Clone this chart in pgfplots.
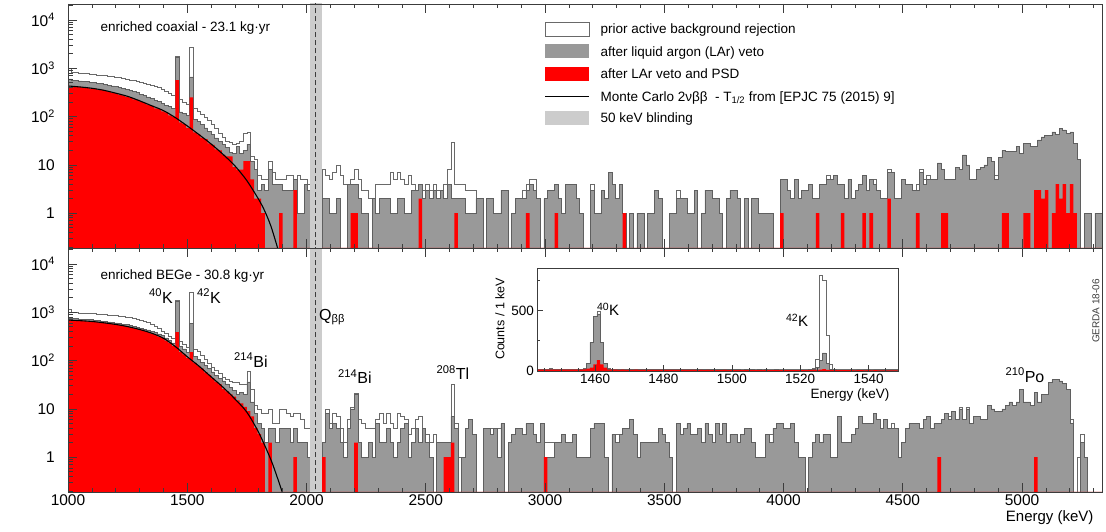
\documentclass[border=0pt]{standalone}
\usepackage{pgfplots}
\pgfplotsset{compat=1.18}
\usepackage{pgfplotstable}
\usepackage{fontspec}
\setmainfont{Liberation Sans}
\newcommand{\fs}[1]{\fontsize{#1}{#1}\selectfont}
\definecolor{histgray}{RGB}{153,153,153}
\definecolor{histedge}{RGB}{95,95,95}
\definecolor{prioredge}{RGB}{105,105,105}
\definecolor{blindgray}{RGB}{204,204,204}
\definecolor{axisgray}{RGB}{60,60,60}

\pgfplotstableread{
E P G R
1000 1000 600 415
1015 820 565 420
1030 810 560 405
1045 790 545 410
1060 790 540 390
1075 770 530 395
1090 760 515 375
1105 750 510 378
1120 730 495 360
1135 725 480 355
1150 700 465 335
1165 690 450 330
1180 675 430 310
1195 650 420 305
1210 635 400 280
1225 610 385 275
1240 595 360 255
1255 570 350 248
1270 555 330 228
1285 530 315 222
1300 510 290 200
1315 495 275 192
1330 470 255 172
1345 450 240 166
1360 420 215 148
1375 395 205 142
1390 360 185 128
1405 335 172 122
1420 300 160 106
1435 270 145 98
1450 1750 1700 570
1465 225 125 76
1480 200 115 70
1495 180 105 58
1510 2770 665 250
1525 150 88 47
1540 130 78 43
1555 112 68 36
1570 95 58 34
1585 82 50 28
1600 68 43 26
1615 56 36 21
1630 46 31 20
1645 37 27 16
1660 31 23 15
1675 30 18 15
1690 27 17 9
1705 28 24 8
1720 31 17 8
1735 44 20 12
1750 48 27 12
1765 15 12 5
1780 13 8 2
1795 6 3 2
1810 5 4 1
1825 5 3 .1
1840 12 8 .1
1855 7 4 .1
1870 5 4 .1
1885 5 4 1
1900 5 3 .1
1915 6 3 .1
1930 6 3 .1
1945 5 5 3
1960 6 1 .1
1975 5 1 .1
1990 5 4 .1
2005 4 3 .1
2020 .1 .1 .1
2035 .1 .1 .1
2050 .1 .1 .1
2065 8 2 .1
2080 6 2 .1
2095 5 1 .1
2110 7 1 .1
2125 10 2 .1
2140 6 .1 .1
2155 4 .1 .1
2170 4 4 .1
2185 5 4 1
2200 8 4 1
2215 5 2 .1
2230 3 1 .1
2245 3 1 .1
2260 2 .1 .1
2275 2 2 .1
2290 4 1 .1
2305 4 2 .1
2320 4 2 .1
2335 4 2 .1
2350 7 1 .1
2365 5 1 .1
2380 7 2 .1
2395 5 2 .1
2410 4 1 .1
2425 6 1 .1
2440 4 3 .1
2455 3 3 .1
2470 4 4 2
2485 3 2 .1
2500 4 3 .1
2515 3 2 .1
2530 4 3 .1
2545 3 2 .1
2560 3 3 .1
2575 4 2 .1
2590 8 4 .1
2605 30 2 .1
2620 4 2 1
2635 4 2 .1
2650 4 2 .1
2665 3 1 .1
2680 3 1 .1
2695 3 1 .1
2710 2 2 .1
2725 2 2 .1
2740 .1 .1 .1
2755 2 2 .1
2770 2 2 .1
2785 1 1 .1
2800 1 1 .1
2815 3 3 .1
2830 3 3 .1
2845 .1 .1 .1
2860 1 1 .1
2875 2 2 .1
2890 2 2 .1
2905 3 2 .1
2920 4 3 1
2935 5 4 .1
2950 5 3 .1
2965 2 2 .1
2980 .1 .1 .1
2995 2 2 .1
3010 3 3 .1
3025 3 3 .1
3040 4 4 1
3055 2 2 .1
3070 1 1 .1
3085 4 4 .1
3100 4 4 .1
3115 4 4 .1
3130 2 2 .1
3145 1 1 .1
3160 .1 .1 .1
3175 .1 .1 .1
3190 4 3 .1
3205 1 1 .1
3220 1 1 .1
3235 3 3 .1
3250 2 2 .1
3265 7 7 .1
3280 4 4 .1
3295 2 2 .1
3310 4 4 .1
3325 1 1 1
3340 .1 .1 .1
3355 1 1 .1
3370 .1 .1 .1
3385 1 1 .1
3400 1 1 .1
3415 .1 .1 .1
3430 1 1 .1
3445 1 1 .1
3460 3 3 .1
3475 2 2 .1
3490 .1 .1 .1
3505 .1 .1 .1
3520 1 1 .1
3535 1 1 .1
3550 3 2 .1
3565 2 2 .1
3580 2 2 .1
3595 1 1 .1
3610 1 1 .1
3625 3 3 .1
3640 .1 .1 .1
3655 1 1 .1
3670 3 3 .1
3685 3 3 .1
3700 2 2 .1
3715 2 2 .1
3730 1 1 .1
3745 .1 .1 .1
3760 2 2 .1
3775 3 3 .1
3790 3 3 .1
3805 2 2 .1
3820 .1 .1 .1
3835 2 2 .1
3850 .1 .1 .1
3865 2 2 .1
3880 2 2 .1
3895 1 1 .1
3910 1 1 .1
3925 1 1 .1
3940 1 1 .1
3955 .1 .1 .1
3970 .1 .1 .1
3985 5 5 1
4000 5 5 .1
4015 3 3 .1
4030 2 2 .1
4045 5 5 .1
4060 2 2 .1
4075 3 3 .1
4090 3 3 .1
4105 4 4 .1
4120 2 2 .1
4135 2 2 1
4150 4 4 .1
4165 4 4 .1
4180 6 5 .1
4195 5 5 .1
4210 6 6 .1
4225 4 4 .1
4240 4 4 1
4255 2 2 .1
4270 5 5 .1
4285 2 2 .1
4300 3 3 .1
4315 4 4 .1
4330 6 6 1
4345 3 3 .1
4360 5 5 1
4375 5 4 .1
4390 3 3 .1
4405 2 2 .1
4420 2 2 .1
4435 8 7 2
4450 7 7 .1
4465 2 2 .1
4480 2 2 .1
4495 5 5 .1
4510 4 4 .1
4525 4 4 .1
4540 3 3 .1
4555 4 3 1
4570 8 7 .1
4585 5 4 .1
4600 6 5 .1
4615 5 5 .1
4630 5 5 .1
4645 11 11 .1
4660 8 8 1
4675 5 5 1
4690 5 5 .1
4705 5 5 .1
4720 9 9 .1
4735 8 8 .1
4750 16 16 .1
4765 10 10 .1
4780 5 5 .1
4795 5 5 .1
4810 8 8 .1
4825 9 9 .1
4840 10 10 .1
4855 14 14 .1
4870 12 12 .1
4885 6 5 .1
4900 14 14 .1
4915 20 20 1
4930 19 19 1
4945 19 19 .1
4960 19 19 .1
4975 24 24 .1
4990 17 17 .1
5005 28 28 1
5020 28 28 1
5035 24 24 .1
5050 24 24 3
5065 33 33 3
5080 38 38 2
5095 40 40 3
5110 40 40 .1
5125 48 48 1
5140 42 42 4
5155 57 57 2
5170 53 53 4
5185 45 45 1
5200 48 48 4
5215 28 28 1
5230 13 13 .1
5245 .1 .1 .1
5260 1 1 .1
5275 1 1 .1
5290 .1 .1 .1
5305 1 1 .1
5320 1 1 .1
5335 1 1 .1
}\coax

\pgfplotstableread{
E P G R
1000 1150 760 690
1015 1000 735 675
1030 990 735 680
1045 970 715 660
1060 960 720 665
1075 950 700 645
1090 940 700 650
1105 930 685 630
1120 920 675 625
1135 905 655 605
1150 890 650 600
1165 875 630 580
1180 860 620 575
1195 845 600 550
1210 830 590 545
1225 810 565 520
1240 790 555 510
1255 770 530 485
1270 750 515 472
1285 720 490 445
1300 690 470 432
1315 650 450 405
1330 610 430 390
1345 560 405 362
1360 510 385 342
1375 460 355 312
1390 410 335 295
1405 360 295 258
1420 320 265 232
1435 285 232 200
1450 1750 1720 390
1465 245 200 152
1480 215 175 135
1495 190 150 112
1510 2600 590 150
1525 175 120 90
1540 155 105 78
1555 130 90 68
1570 105 78 57
1585 88 68 50
1600 73 58 43
1615 62 50 36
1630 54 43 32
1645 46 38 26
1660 40 33 23
1675 38 28 20
1690 36 24 18
1705 35 20 15
1720 32 22 13
1735 33 20 11
1750 61 36 9
1765 25 14 7
1780 12 8 4
1795 10 5 3
1810 8 4 2
1825 8 2 .1
1840 10 4 2
1855 5 4 .1
1870 5 2 .1
1885 10 4 .1
1900 10 4 .1
1915 8 4 .1
1930 7 2 .1
1945 8 4 1
1960 8 2 .1
1975 6 2 .1
1990 4 2 .1
2005 4 1 .1
2020 .1 .1 .1
2035 .1 .1 .1
2050 .1 .1 .1
2065 2 2 1
2080 10 8 .1
2095 5 4 .1
2110 8 5 .1
2125 7 4 .1
2140 4 2 .1
2155 2 1 .1
2170 6 4 .1
2185 11 10 .1
2200 21 20 2
2215 6 2 .1
2230 5 1 .1
2245 4 1 .1
2260 4 2 .1
2275 4 1 .1
2290 6 5 .1
2305 8 2 .1
2320 5 2 .1
2335 8 4 .1
2350 5 2 .1
2365 4 1 .1
2380 8 2 .1
2395 7 4 .1
2410 6 5 .1
2425 3 1 .1
2440 4 2 .1
2455 6 4 .1
2470 7 2 .1
2485 4 4 .1
2500 3 2 .1
2515 2 1 .1
2530 3 .1 .1
2545 2 2 .1
2560 2 2 .1
2575 2 2 1
2590 2 2 1
2605 32 7 2
2620 5 4 .1
2635 1 .1 .1
2650 1 1 .1
2665 4 4 .1
2680 6 6 .1
2695 3 3 .1
2710 .1 .1 .1
2725 .1 .1 .1
2740 4 4 .1
2755 4 4 .1
2770 4 3 .1
2785 4 4 .1
2800 4 1 .1
2815 5 5 .1
2830 .1 .1 .1
2845 2 2 .1
2860 3 3 .1
2875 4 4 .1
2890 4 4 .1
2905 3 3 .1
2920 5 5 .1
2935 5 5 .1
2950 3 3 .1
2965 2 2 .1
2980 5 5 .1
2995 2 1 1
3010 2 1 .1
3025 2 1 .1
3040 2 2 .1
3055 2 2 .1
3070 3 3 .1
3085 2 2 .1
3100 2 2 .1
3115 3 3 .1
3130 1 1 .1
3145 1 1 .1
3160 1 1 .1
3175 1 1 .1
3190 4 4 .1
3205 5 5 .1
3220 5 5 .1
3235 5 5 .1
3250 1 1 .1
3265 .1 .1 .1
3280 3 3 .1
3295 3 2 .1
3310 3 3 .1
3325 4 4 .1
3340 4 4 .1
3355 6 6 .1
3370 3 3 .1
3385 1 1 .1
3400 2 2 .1
3415 2 2 .1
3430 2 2 .1
3445 2 2 .1
3460 2 2 .1
3475 4 4 .1
3490 3 3 .1
3505 2 2 .1
3520 1 1 .1
3535 .1 .1 .1
3550 5 5 .1
3565 3 3 .1
3580 4 4 .1
3595 5 5 .1
3610 3 3 .1
3625 3 3 .1
3640 4 4 .1
3655 2 2 .1
3670 5 5 .1
3685 3 3 .1
3700 2 2 .1
3715 5 5 .1
3730 3 3 .1
3745 5 5 .1
3760 2 2 .1
3775 3 3 .1
3790 3 3 .1
3805 2 2 .1
3820 3 3 .1
3835 4 4 .1
3850 4 4 .1
3865 2 2 .1
3880 1 1 .1
3895 1 1 .1
3910 1 1 .1
3925 3 3 .1
3940 3 2 .1
3955 4 4 .1
3970 5 5 .1
3985 5 5 .1
4000 4 4 .1
4015 4 4 .1
4030 5 5 .1
4045 2 2 .1
4060 1 1 .1
4075 1 1 .1
4090 .1 .1 .1
4105 1 1 .1
4120 2 2 .1
4135 3 3 .1
4150 2 2 .1
4165 3 3 .1
4180 3 3 .1
4195 1 1 .1
4210 1 1 .1
4225 7 7 .1
4240 2 2 .1
4255 2 2 .1
4270 2 2 .1
4285 3 3 .1
4300 4 4 .1
4315 7 7 .1
4330 5 5 .1
4345 5 5 .1
4360 5 5 .1
4375 8 8 .1
4390 6 6 .1
4405 4 4 .1
4420 6 6 .1
4435 4 4 .1
4450 5 4 .1
4465 4 4 .1
4480 1 1 .1
4495 2 2 .1
4510 4 4 .1
4525 5 5 .1
4540 5 5 .1
4555 5 5 .1
4570 4 4 .1
4585 6 6 .1
4600 7 7 .1
4615 4 4 .1
4630 5 5 .1
4645 5 5 1
4660 6 6 .1
4675 8 8 .1
4690 7 6 .1
4705 9 9 .1
4720 6 6 .1
4735 11 10 .1
4750 6 6 .1
4765 11 10 .1
4780 5 5 .1
4795 7 7 .1
4810 7 7 .1
4825 6 6 .1
4840 6 6 .1
4855 12 12 .1
4870 10 10 .1
4885 9 9 .1
4900 9 9 .1
4915 10 10 .1
4930 12 12 .1
4945 14 14 .1
4960 12 12 .1
4975 14 14 .1
4990 25 25 .1
5005 14 14 .1
5020 14 14 .1
5035 12 12 .1
5050 22 22 1
5065 14 14 .1
5080 20 20 .1
5095 20 20 .1
5110 35 35 .1
5125 40 40 .1
5140 40 40 .1
5155 38 38 .1
5170 34 34 .1
5185 25 25 .1
5200 6 5 .1
5215 .1 .1 .1
5230 1 .1 .1
5245 3 2 .1
5260 1 1 .1
5275 .1 .1 .1
5290 .1 .1 .1
5305 .1 .1 .1
5320 .1 .1 .1
5335 .1 .1 .1
}\bege

\pgfplotstableread{
E P G R
1442.5 18 14 12
1443.5 17 14 12
1444.5 18 13 11
1445.5 17 14 12
1446.5 19 14 11
1447.5 16 13 12
1448.5 18 14 11
1449.5 17 13 11
1450.5 16 13 12
1451.5 17 14 11
1452.5 16 13 11
1453.5 18 14 12
1454.5 17 13 11
1455.5 18 15 12
1456.5 20 16 14
1457.5 62 60 20
1458.5 240 236 28
1459.5 455 450 55
1460.5 490 472 89
1461.5 240 236 55
1462.5 65 61 28
1463.5 20 16 12
1464.5 17 13 11
1465.5 16 13 11
1466.5 17 13 10
1467.5 16 12 11
1468.5 17 13 10
1469.5 15 12 10
1470.5 16 12 10
1471.5 16 13 11
1472.5 15 12 10
1473.5 16 12 10
1474.5 15 12 9
1475.5 16 12 10
1476.5 15 11 10
1477.5 16 12 9
1478.5 15 12 10
1479.5 15 11 9
1480.5 16 12 10
1481.5 15 11 9
1482.5 18 13 10
1483.5 15 11 9
1484.5 14 11 9
1485.5 15 11 9
1486.5 14 11 9
1487.5 15 11 9
1488.5 14 10 9
1489.5 15 11 8
1490.5 14 10 9
1491.5 14 11 8
1492.5 15 10 9
1493.5 14 10 8
1494.5 14 11 8
1495.5 13 10 8
1496.5 14 10 8
1497.5 14 10 9
1498.5 13 10 8
1499.5 14 10 8
1500.5 13 10 8
1501.5 14 10 8
1502.5 13 9 8
1503.5 14 10 8
1504.5 13 9 7
1505.5 13 10 8
1506.5 14 9 7
1507.5 13 10 8
1508.5 13 9 7
1509.5 14 10 8
1510.5 13 9 7
1511.5 13 9 7
1512.5 14 10 8
1513.5 13 9 7
1514.5 13 9 7
1515.5 12 9 7
1516.5 13 9 7
1517.5 13 9 7
1518.5 12 9 7
1519.5 13 9 7
1520.5 13 9 7
1521.5 14 9 7
1522.5 15 10 8
1523.5 22 12 9
1524.5 100 30 10
1525.5 790 90 12
1526.5 750 150 15
1527.5 292 60 10
1528.5 55 15 8
1529.5 16 10 8
1530.5 13 9 7
1531.5 13 9 7
1532.5 12 9 7
1533.5 13 9 7
1534.5 12 8 7
1535.5 12 9 6
1536.5 13 8 7
1537.5 12 9 7
1538.5 12 8 6
1539.5 12 8 7
1540.5 13 9 6
1541.5 12 8 7
1542.5 12 8 6
1543.5 12 8 6
1544.5 11 8 6
1545.5 12 8 6
1546.5 12 8 6
1547.5 11 8 6
1548.5 11 8 6
}\zoomk

\begin{document}
\begin{tikzpicture}[x=1pt,y=1pt]
\useasboundingbox (0,0) rectangle (1106,532);

% ---------------- upper panel: enriched coaxial
\begin{axis}[at={(68pt,284pt)}, anchor=south west,
    scale only axis, width=1034pt, height=244pt,
    ymode=log,
    xmin=1000, xmax=5335, ymin=0.19, ymax=21400,
    log origin y=infty, axis on top,
    axis line style={axisgray, line width=0.9pt},
    every tick/.style={axisgray, line width=0.7pt},
    major tick length=9pt, minor tick length=4.5pt,
    xtick={1000,1500,2000,2500,3000,3500,4000,4500,5000},
    minor xtick={1000,1100,...,5300},
    ytick={1,10,100,1000,10000},
    yticklabels={1,10,{10\textsuperscript{2}},{10\textsuperscript{3}},{10\textsuperscript{4}}},
    minor ytick={0.2,0.3,0.4,0.5,0.6,0.7,0.8,0.9,2,3,4,5,6,7,8,9,20,30,40,50,60,70,80,90,200,300,400,500,600,700,800,900,2000,3000,4000,5000,6000,7000,8000,9000,20000},
    ytick pos=left,
    tick label style={font=\fs{15.5}},
    yticklabel style={inner sep=0pt, xshift=-13pt},
    xticklabels={}]
\addplot[const plot mark left, mark=none, draw=prioredge, line width=0.6pt, fill=white] table[x=E,y=P]{\coax} \closedcycle;
\addplot[const plot mark left, mark=none, draw=histedge, line width=0.6pt, fill=histgray] table[x=E,y=G]{\coax} \closedcycle;
\addplot[const plot mark left, mark=none, draw=none, fill=red] table[x=E,y=R]{\coax} \closedcycle;
\addplot[black, line width=1.1pt, smooth, mark=none] coordinates {
(1000,430)(1050,410)(1100,385)(1150,350)(1200,305)(1250,262)(1300,212)(1350,168)
(1400,133)(1450,95)(1500,64)(1550,42)(1600,27)(1650,16.5)(1700,9.5)(1750,4.7)
(1800,1.9)(1825,1.1)(1850,0.55)(1875,0.22)(1890,0.12)};
\fill[blindgray] (axis cs:2014,0.1) rectangle (axis cs:2064,100000);
\draw[axisgray, line width=0.8pt, dash pattern=on 5pt off 3pt] (axis cs:2039,0.1) -- (axis cs:2039,100000);
\node[rotate=90, anchor=east, font=\fs{15}] at (axis description cs:-0.0508,0.98) {Counts / 15 keV};
\end{axis}

% ---------------- lower panel: enriched BEGe
\begin{axis}[at={(68pt,40pt)}, anchor=south west,
    scale only axis, width=1034pt, height=244pt,
    ymode=log,
    xmin=1000, xmax=5335, ymin=0.19, ymax=21400,
    log origin y=infty, axis on top,
    axis line style={axisgray, line width=0.9pt},
    every tick/.style={axisgray, line width=0.7pt},
    major tick length=9pt, minor tick length=4.5pt,
    xtick={1000,1500,2000,2500,3000,3500,4000,4500,5000},
    minor xtick={1000,1100,...,5300},
    ytick={1,10,100,1000,10000},
    yticklabels={1,10,{10\textsuperscript{2}},{10\textsuperscript{3}},{10\textsuperscript{4}}},
    minor ytick={0.2,0.3,0.4,0.5,0.6,0.7,0.8,0.9,2,3,4,5,6,7,8,9,20,30,40,50,60,70,80,90,200,300,400,500,600,700,800,900,2000,3000,4000,5000,6000,7000,8000,9000,20000},
    ytick pos=left,
    tick label style={font=\fs{15.5}},
    yticklabel style={inner sep=0pt, xshift=-13pt},
    xticklabel style={inner sep=2.5pt},
    xticklabels={1000,1500,2000,2500,3000,3500,4000,4500,5000}]
\addplot[const plot mark left, mark=none, draw=prioredge, line width=0.6pt, fill=white] table[x=E,y=P]{\bege} \closedcycle;
\addplot[const plot mark left, mark=none, draw=histedge, line width=0.6pt, fill=histgray] table[x=E,y=G]{\bege} \closedcycle;
\addplot[const plot mark left, mark=none, draw=none, fill=red] table[x=E,y=R]{\bege} \closedcycle;
\addplot[black, line width=1.1pt, smooth, mark=none] coordinates {
(1000,690)(1050,670)(1100,645)(1150,605)(1200,560)(1250,505)(1300,440)(1350,370)
(1400,290)(1450,195)(1500,120)(1550,76)(1600,46)(1650,28)(1700,16)(1750,8.5)
(1800,3.2)(1850,0.9)(1880,0.35)(1905,0.15)};
\fill[blindgray] (axis cs:2014,0.1) rectangle (axis cs:2064,100000);
\draw[axisgray, line width=0.8pt, dash pattern=on 5pt off 3pt] (axis cs:2039,0.1) -- (axis cs:2039,100000);
\node[rotate=90, anchor=east, font=\fs{15}] at (axis description cs:-0.0508,0.96) {Counts / 15 keV};
\node[font=\fs{16}] at (axis cs:1390,2150) {\textsuperscript{40}K};
\node[font=\fs{16}] at (axis cs:1591,2150) {\textsuperscript{42}K};
\node[font=\fs{16}] at (axis cs:1767,102) {\textsuperscript{214}Bi};
\node[font=\fs{16}] at (axis cs:2107,790) {Q\textsubscript{ββ}};
\node[font=\fs{16}] at (axis cs:2203,47) {\textsuperscript{214}Bi};
\node[font=\fs{16}] at (axis cs:2614,57) {\textsuperscript{208}Tl};
\node[font=\fs{16}] at (axis cs:5012,50) {\textsuperscript{210}Po};
\end{axis}

% ---------------- inset
\begin{axis}[at={(537pt,161pt)}, anchor=south west, scale only axis,
  width=361pt, height=103pt,
  xmin=1443, xmax=1548.6, ymin=0, ymax=850, axis on top,
  axis background/.style={fill=white},
  axis line style={axisgray, line width=0.8pt},
  every tick/.style={axisgray, line width=0.6pt},
  major tick length=6pt, minor tick length=3pt,
  xtick={1460,1480,1500,1520,1540}, xticklabels={1460,1480,1500,1520,1540},
  minor xtick={1445,1450,...,1545},
  ytick={0,500}, yticklabels={0,500}, minor ytick={250,750},
  ytick pos=left, xtick pos=left,
  tick label style={font=\fs{13.5}},
  yticklabel style={inner sep=0pt, xshift=-3pt},
  xticklabel style={inner sep=3pt},
]
\addplot[const plot mark left, mark=none, draw=prioredge, line width=0.6pt, fill=white] table[x=E,y=P]{\zoomk} \closedcycle;
\addplot[const plot mark left, mark=none, draw=histedge, line width=0.6pt, fill=histgray] table[x=E,y=G]{\zoomk} \closedcycle;
\addplot[const plot mark left, mark=none, draw=none, fill=red] table[x=E,y=R]{\zoomk} \closedcycle;
\node[font=\fs{15}] at (axis cs:1463.8,512) {\textsuperscript{40}K};
\node[font=\fs{15}] at (axis cs:1519.1,421) {\textsuperscript{42}K};
\end{axis}
\node[rotate=90, font=\fs{12.5}] at (500,213) {Counts / 1 keV};
\node[anchor=east, font=\fs{13.5}] at (893,137) {Energy (keV)};

% ---------------- texts
\node[anchor=west, font=\fs{13.5}] at (97,504) {enriched coaxial - 23.1 kg·yr};
\node[anchor=west, font=\fs{13.5}] at (97,256) {enriched BEGe - 30.8 kg·yr};
\node[anchor=east, font=\fs{15}] at (1097,14) {Energy (keV)};
\node[rotate=90, font=\fs{10}, text=axisgray] at (1096,221) {GERDA 18-06};

% ---------------- legend
\draw[prioredge, line width=0.8pt, fill=white] (545,496) rectangle (589,510);
\node[anchor=base west, font=\fs{13.5}] at (597,498.2) {prior active background rejection};
\fill[histgray] (545,473.5) rectangle (589,487.5);
\node[anchor=base west, font=\fs{13.5}] at (597,475.7) {after liquid argon (LAr) veto};
\fill[red] (545,451) rectangle (589,465);
\node[anchor=base west, font=\fs{13.5}] at (597,453.2) {after LAr veto and PSD};
\draw[black, line width=1.1pt] (545,435.5) -- (589,435.5);
\node[anchor=base west, font=\fs{13.5}] at (597,430.7) {Monte Carlo 2νββ\ \ - T\textsubscript{1/2} from [EPJC 75 (2015) 9]};
\fill[blindgray] (545,407) rectangle (589,421);
\node[anchor=base west, font=\fs{13.5}] at (597,409.2) {50 keV blinding};
\end{tikzpicture}
\end{document}
